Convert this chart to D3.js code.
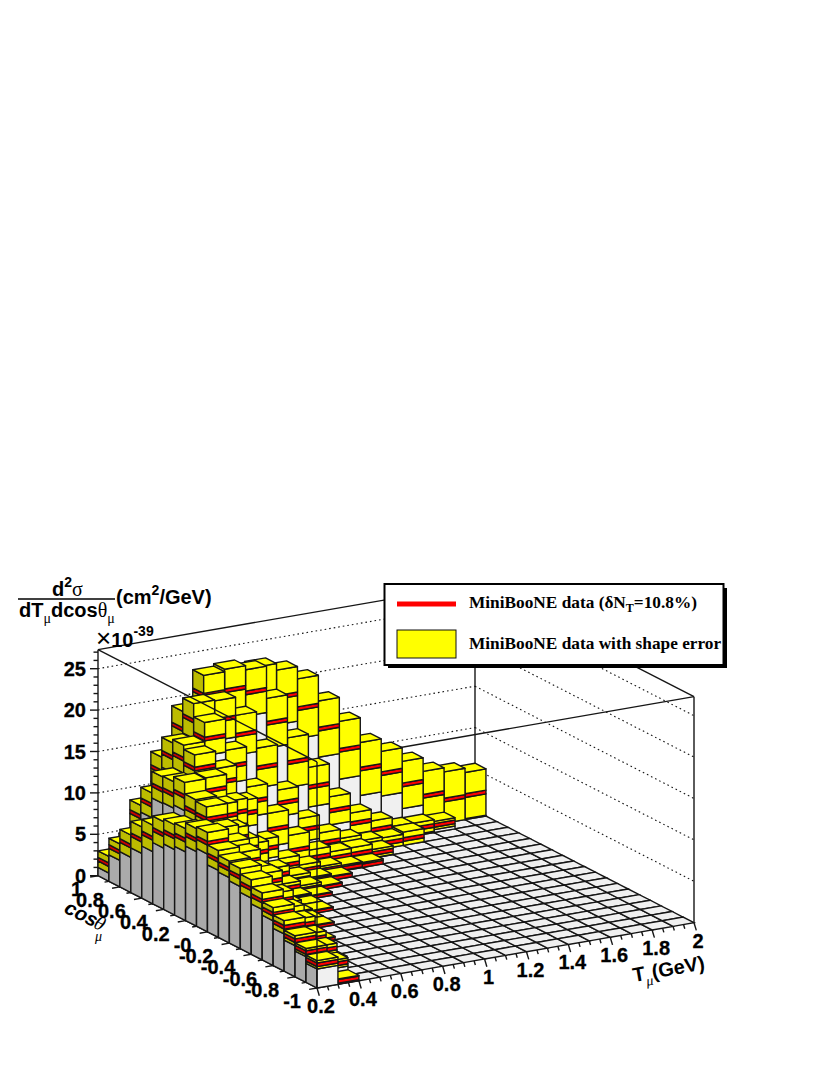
<!DOCTYPE html>
<html><head><meta charset="utf-8">
<style>html,body{margin:0;padding:0;background:#fff}svg{display:block}</style>
<script src="https://cdn.jsdelivr.net/npm/d3@7"></script></head>
<body><svg id="c" width="830" height="1075"></svg>
<script>
// bin lower edges
const tEdges = [0.2,0.3,0.4,0.5,0.6,0.7,0.8,0.9,1.0,1.1,1.2,1.3,1.4,1.5,1.6,1.7,1.8,1.9];
const cosEdges = [0.9,0.8,0.7,0.6,0.5,0.4,0.3,0.2,0.1,0.0,-0.1,-0.2,-0.3,-0.4,-0.5,-0.6,-0.7,-0.8,-0.9,-1.0];
// central cross section per cos row (x 1e-39); missing trailing bins are empty
const central = [
 [2.0,3.4,5.6,9.3,13.3,16.8,19.2,19.4,18.7,16.9,14.0,11.0,8.3,7.3,5.5,3.7,2.8,2.9],
 [4.2,8.0,13.0,17.7,21.4,21.5,20.8,16.7,11.5,8.1,4.8,2.8,1.6,0.7,0.85,0.85],
 [5.6,10.1,15.4,19.4,19.0,16.8,12.4,7.7,4.0,2.0,1.05,0.85,0.65,0.7],
 [7.0,12.6,15.9,17.9,14.1,9.4,5.6,2.6,1.3,0.85,0.9,0.55],
 [7.9,12.7,15.4,13.3,9.0,4.3,1.9,0.9,0.5,0.3,0.2],
 [9.0,13.2,13.4,10.2,4.9,1.8,0.8,0.4,0.2],
 [9.4,11.9,10.9,6.5,2.5,0.9,0.4,0.15],
 [9.7,11.8,8.9,3.7,1.0,0.3,0.12],
 [10.4,10.0,6.3,2.0,0.5,0.12],
 [10.7,9.1,4.2,1.0,0.2,0.1],
 [9.3,8.6,3.3,0.6,0.12],
 [8.9,7.4,2.1,0.4,0.1],
 [8.6,7.5,1.3,0.2],
 [7.9,5.9,0.9,0.1],
 [7.1,4.9,0.5],
 [6.2,4.3,0.3],
 [5.3,3.3,0.2],
 [4.35,2.6],
 [3.6,1.6],
 [2.8,0.35]
];
// shape error per cos row
const shapeErr = [
 [1.0,1.3,1.6,2.0,2.4,2.8,3.2,3.4,3.3,3.6,3.4,3.5,3.2,2.7,2.85,3.0,3.4,2.8],
 [1.0,1.4,1.8,2.2,2.4,2.6,2.8,3.0,3.0,2.4,1.7,1.3,1.1,0.9,0.7,0.5],
 [1.35,1.5,1.8,2.1,2.4,2.4,2.4,1.6,1.4,1.25,1.1,0.6,0.7,0.9],
 [1.6,1.6,1.7,2.0,2.0,1.8,2.0,1.9,1.0,0.8,0.8,0.5],
 [1.6,1.6,1.7,1.7,1.6,1.2,0.9,0.7,0.5,0.4,0.4],
 [1.6,1.7,1.6,1.5,1.2,0.9,0.6,0.4,0.3],
 [1.5,1.6,1.5,1.2,0.9,0.6,0.5,0.3],
 [1.4,1.5,1.3,1.0,0.6,0.4,0.3],
 [1.4,1.4,1.1,0.8,0.5,0.3],
 [1.3,1.3,0.9,0.6,0.4,0.3],
 [1.2,1.2,0.8,0.5,0.3],
 [1.0,1.1,0.7,0.4,0.3],
 [1.1,1.1,0.6,0.3],
 [1.1,1.0,0.5,0.3],
 [1.0,0.9,0.4],
 [0.8,0.8,0.4],
 [0.8,0.7,0.3],
 [0.6,0.6],
 [0.5,0.5],
 [0.5,0.3]
];
const normBand = 0.22;
const zTicks = [0,5,10,15,20,25];
const zMinor = d3.range(0,28,1);
const tTicks = [0.2,0.4,0.6,0.8,1,1.2,1.4,1.6,1.8,2];
const tLabels = ["0.2","0.4","0.6","0.8","1","1.2","1.4","1.6","1.8","2"];
const cosTicks = [1,0.8,0.6,0.4,0.2,0,-0.2,-0.4,-0.6,-0.8,-1];
const cosLabels = ["1","0.8","0.6","0.4","0.2","-0","-0.2","-0.4","-0.6","-0.8","-1"];
const legendItems = ["MiniBooNE data with shape error"];

const TMAX=2, TMIN=0.2, CMIN=-1, CMAX=1, ZTOP=27.3;
const FILL={top:"#ffff00",yf:"#ffff00",yl:"#bcbc00",rf:"#ff0000",rl:"#cc0000",ef:"#f0f0f0",el:"#aaaaaa",floor:"#f0f0f0"};
const INK="#161616", LW=1.4;

// oblique projection
const xT=d3.scaleLinear().domain([TMIN,TMAX]).range([0,377]);
const yT=d3.scaleLinear().domain([TMIN,TMAX]).range([0,-65.3]);
const xC=d3.scaleLinear().domain([CMIN,CMAX]).range([317,98]);
const yC=d3.scaleLinear().domain([CMIN,CMAX]).range([988,875.7]);
const yZ=d3.scaleLinear().domain([0,25]).range([0,-207]);
const P=(t,c,z=0)=>[xT(t)+xC(c),yT(t)+yC(c)+yZ(z)];
const path=pts=>"M"+pts.map(p=>p[0].toFixed(2)+","+p[1].toFixed(2)).join("L")+"Z";
const line=(g,a,b,attrs={})=>{const l=g.append("line").attr("x1",a[0]).attr("y1",a[1]).attr("x2",b[0]).attr("y2",b[1]).attr("stroke",INK).attr("stroke-width",LW);for(const k in attrs)l.attr(k,attrs[k]);return l;};

const svg=d3.select("#c");
const back=svg.append("g");
// walls
for(const z of zTicks.slice(1)){
  const d={"stroke-dasharray":"1.6,3","stroke-width":1.1};
  line(back,P(TMIN,CMAX,z),P(TMAX,CMAX,z),d);
  line(back,P(TMAX,CMAX,z),P(TMAX,CMIN,z),d);
}
line(back,P(TMIN,CMAX,0),P(TMIN,CMAX,ZTOP));
line(back,P(TMAX,CMIN,0),P(TMAX,CMIN,ZTOP));
line(back,P(TMAX,CMAX,0),P(TMAX,CMAX,ZTOP));
line(back,P(TMIN,CMAX,ZTOP),P(TMAX,CMAX,ZTOP));
line(back,P(TMAX,CMAX,ZTOP),P(TMAX,CMIN,ZTOP));
line(back,P(TMIN,CMIN,ZTOP),P(TMAX,CMIN,ZTOP));

// floor
const fl=svg.append("g");
const DT=0.1,DC=0.1;
cosEdges.forEach(c=>tEdges.forEach(t=>{
  fl.append("path").attr("d",path([P(t,c),P(t+DT,c),P(t+DT,c+DC),P(t,c+DC)]))
    .attr("fill",FILL.floor).attr("stroke",INK).attr("stroke-width",LW);
}));

// bars, painted from far corner to near corner
const bars=svg.append("g").attr("stroke",INK).attr("stroke-width",LW).attr("stroke-linejoin","round");
function slab(t,c,z0,z1,ff,fl2){
  bars.append("path").attr("d",path([P(t,c+DC,z0),P(t,c,z0),P(t,c,z1),P(t,c+DC,z1)])).attr("fill",fl2);
  bars.append("path").attr("d",path([P(t,c,z0),P(t+DT,c,z0),P(t+DT,c,z1),P(t,c,z1)])).attr("fill",ff);
}
cosEdges.forEach((c,r)=>{
  for(let i=central[r].length-1;i>=0;i--){
    const t=tEdges[i],v=central[r][i],e=shapeErr[r][i];
    const lo=Math.max(0,v-e),hi=v+e,rl=Math.max(lo,v-normBand),rh=v+normBand;
    if(lo>0)slab(t,c,0,lo,FILL.ef,FILL.el);
    if(rl>lo)slab(t,c,lo,rl,FILL.yf,FILL.yl);
    slab(t,c,rl,rh,FILL.rf,FILL.rl);
    const top=Math.max(hi,rh);
    if(top>rh)slab(t,c,rh,top,FILL.yf,FILL.yl);
    bars.append("path").attr("d",path([P(t,c,top),P(t+DT,c,top),P(t+DT,c+DC,top),P(t,c+DC,top)])).attr("fill",FILL.top);
  }
});

// box edges passing in front of the bars
const front=svg.append("g");
line(front,P(TMIN,CMAX,ZTOP),P(TMIN,CMIN,ZTOP));
line(front,P(TMIN,CMIN,0),P(TMIN,CMIN,ZTOP));

// axes
const ax=svg.append("g");
const LAB="'Liberation Sans',Arial,sans-serif";
const label=(x,y,anchor,s)=>ax.append("text").attr("x",x).attr("y",y).attr("text-anchor",anchor).attr("font-family",LAB).attr("font-weight","bold").attr("font-size",20).attr("fill","#000").attr("stroke","#000").attr("stroke-width",0.3).text(s);
zMinor.forEach(z=>{const p=P(TMIN,CMAX,z);const L=z%5===0?8:4.5;line(ax,p,[p[0]-L,p[1]]);});
zTicks.forEach(z=>{const p=P(TMIN,CMAX,z);label(p[0]-12,p[1]+7,"end",z);});
d3.range(0,37).forEach(i=>{const t=TMIN+i*0.05;const p=P(t,CMIN);const M=i%4===0;const k=M?1:0.55;line(ax,p,[p[0]+2.3*k,p[1]+7.7*k]);});
tTicks.forEach((t,i)=>{const p=P(t,CMIN);label(p[0]+4,p[1]+25,"middle",tLabels[i]);});
d3.range(0,21).forEach(i=>{const c=CMIN+i*0.1;const p=P(TMIN,c);const M=i%2===0;const k=M?8:4.5;line(ax,p,[p[0]-k*0.98,p[1]+k*0.17]);});
cosTicks.forEach((c,i)=>{const p=P(TMIN,c);label(p[0]-16,p[1]+20,"end",cosLabels[i]);});

// axis titles
const SER="'Liberation Serif',serif";
const T=svg.append("g").attr("font-family",LAB).attr("font-weight","bold").attr("font-size",20).attr("fill","#000");
const cg=T.append("g").attr("transform","translate(63,912) rotate(27)");
cg.append("text").attr("font-style","italic").text("cos");
cg.append("text").attr("x",33).attr("font-family",SER).attr("font-style","italic").attr("font-weight","normal").text("θ");
T.append("text").attr("x",95).attr("y",941).attr("font-size",14).attr("font-family",SER).attr("font-style","italic").attr("font-weight","normal").text("μ");
const tg=T.append("g").attr("transform","translate(634,982) rotate(-10)");
const tt=tg.append("text");
tt.append("tspan").text("T");
tt.append("tspan").attr("dy",6).attr("font-size",14).attr("font-family",SER).attr("font-style","italic").attr("font-weight","normal").text("μ");
tt.append("tspan").attr("dy",-6).text("(GeV)");

// z title
T.append("line").attr("x1",18).attr("y1",599).attr("x2",115).attr("y2",599).attr("stroke","#000").attr("stroke-width",1.5);
const num=T.append("text").attr("x",52).attr("y",596);
num.append("tspan").text("d");
num.append("tspan").attr("dy",-9).attr("font-size",14).text("2");
num.append("tspan").attr("dy",9).attr("font-family",SER).attr("font-weight","normal").text("σ");
const den=T.append("text").attr("x",19).attr("y",617);
den.append("tspan").text("dT");
den.append("tspan").attr("dy",6).attr("font-size",14).attr("font-family",SER).attr("font-weight","normal").text("μ");
den.append("tspan").attr("dy",-6).text("dcos");
den.append("tspan").attr("font-family",SER).attr("font-weight","normal").text("θ");
den.append("tspan").attr("dy",6).attr("font-size",14).attr("font-family",SER).attr("font-weight","normal").text("μ");
const un=T.append("text").attr("x",116).attr("y",604);
un.append("tspan").text("(cm");
un.append("tspan").attr("dy",-9).attr("font-size",14).text("2");
un.append("tspan").attr("dy",9).text("/GeV)");
const ex=T.append("text").attr("x",96).attr("y",647);
ex.append("tspan").attr("font-weight","normal").attr("font-size",26).text("×");
ex.append("tspan").text("10");
ex.append("tspan").attr("dy",-11).attr("font-size",14).text("-39");

// legend
const lg=svg.append("g");
lg.append("rect").attr("x",388).attr("y",588).attr("width",339).attr("height",80).attr("fill","#000");
lg.append("rect").attr("x",384.5).attr("y",584).attr("width",339).attr("height",81).attr("fill","#fff").attr("stroke","#000").attr("stroke-width",2);
lg.append("line").attr("x1",397).attr("y1",604).attr("x2",456).attr("y2",604).attr("stroke","#f00").attr("stroke-width",5);
lg.append("rect").attr("x",397).attr("y",630).attr("width",59).attr("height",28).attr("fill","#ff0").attr("stroke","#111");
const l1=lg.append("text").attr("x",469).attr("y",608).attr("font-family",SER).attr("font-weight","bold").attr("font-size",17.3).attr("fill","#000");
l1.append("tspan").text("MiniBooNE data (δN");
l1.append("tspan").attr("dy",4).attr("font-size",12).text("T");
l1.append("tspan").attr("dy",-4).text("=10.8%)");
lg.append("text").attr("x",469).attr("y",649).attr("font-family",SER).attr("font-weight","bold").attr("font-size",17.3).attr("fill","#000").text(legendItems[0]);
</script></body></html>
